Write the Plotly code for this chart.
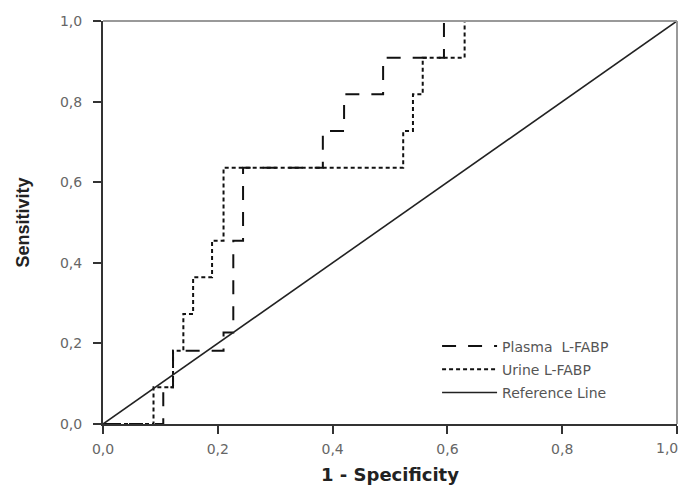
import plotly.graph_objects as go

# ---- data ----
plasma_x = [0, 0.105, 0.105, 0.122, 0.122, 0.21, 0.21, 0.227, 0.227, 0.244, 0.244,
            0.383, 0.383, 0.42, 0.42, 0.488, 0.488, 0.594, 0.594, 1.0]
plasma_y = [0, 0, 0.091, 0.091, 0.182, 0.182, 0.227, 0.227, 0.455, 0.455, 0.636,
            0.636, 0.727, 0.727, 0.818, 0.818, 0.909, 0.909, 1.0, 1.0]

urine_x = [0, 0.088, 0.088, 0.122, 0.122, 0.14, 0.14, 0.157, 0.157, 0.19, 0.19,
           0.21, 0.21, 0.523, 0.523, 0.54, 0.54, 0.557, 0.557, 0.63, 0.63, 1.0]
urine_y = [0, 0, 0.091, 0.091, 0.182, 0.182, 0.273, 0.273, 0.364, 0.364, 0.455,
           0.455, 0.636, 0.636, 0.727, 0.727, 0.818, 0.818, 0.909, 0.909, 1.0, 1.0]

ref_x = [0, 1]
ref_y = [0, 1]

tick_vals = [0, 0.2, 0.4, 0.6, 0.8, 1.0]
tick_text = ["0,0", "0,2", "0,4", "0,6", "0,8", "1,0"]
series_names = ["Plasma  L-FABP", "Urine L-FABP", "Reference Line"]

tick_font = dict(family="DejaVu Sans, Verdana, sans-serif", size=14, color="#666")

fig = go.Figure()
fig.add_trace(go.Scatter(x=plasma_x, y=plasma_y, mode="lines", name=series_names[0],
                         legendgroup="a",
                         line=dict(color="#111", width=2, dash="14px,12px"),
                         cliponaxis=False))
fig.add_trace(go.Scatter(x=urine_x, y=urine_y, mode="lines", name=series_names[1],
                         legendgroup="b",
                         line=dict(color="#111", width=2, dash="4px,3px"),
                         cliponaxis=False))
fig.add_trace(go.Scatter(x=ref_x, y=ref_y, mode="lines", name=series_names[2],
                         legendgroup="c",
                         line=dict(color="#222", width=1.6),
                         cliponaxis=False))

axis_common = dict(
    range=[0, 1], tickvals=tick_vals,
    showgrid=False, zeroline=False, automargin=False,
    showline=True, linecolor="#333", linewidth=2,
    ticks="outside", ticklen=8, tickwidth=2, tickcolor="#333",
    tickfont=tick_font,
)

# last x tick label is placed as an annotation so it is not cut at the page edge
x_ticktext = tick_text[:-1] + [""]

# The page body has an 8px default margin, so the figure is sized 8px smaller
fig.update_layout(
    width=681, height=480,
    margin=dict(l=95, r=12, t=13, b=64),
    paper_bgcolor="white", plot_bgcolor="white",
    xaxis=dict(axis_common, ticktext=x_ticktext, ticklabelstandoff=3,
               title=dict(text="<b>1 - Specificity</b>", standoff=13,
                          font=dict(family="DejaVu Sans, Verdana, sans-serif", size=18, color="#222"))),
    yaxis=dict(axis_common, ticktext=tick_text, ticklabelstandoff=8,
               title=dict(text="<b>Sensitivity</b>", standoff=26,
                          font=dict(family="Liberation Sans Narrow, Arial Narrow, Liberation Sans, sans-serif",
                                    size=18, color="#222"))),
    legend=dict(x=0.582, y=0.232, xanchor="left", yanchor="top",
                bgcolor="rgba(0,0,0,0)", itemwidth=55,
                traceorder="grouped", tracegroupgap=2,
                font=dict(family="DejaVu Sans, Verdana, sans-serif", size=14, color="#555")),
    shapes=[
        dict(type="line", xref="paper", yref="paper", x0=0, x1=1, y0=1, y1=1,
             line=dict(color="#999", width=2)),
        dict(type="line", xref="paper", yref="paper", x0=1, x1=1, y0=0, y1=1,
             line=dict(color="#999", width=2)),
    ],
    annotations=[
        dict(text=tick_text[-1], xref="x", yref="paper", x=tick_vals[-1], y=0,
             xanchor="right", yanchor="top", xshift=3, yshift=-14,
             showarrow=False, font=tick_font),
    ],
)

fig.write_html("out.html")
